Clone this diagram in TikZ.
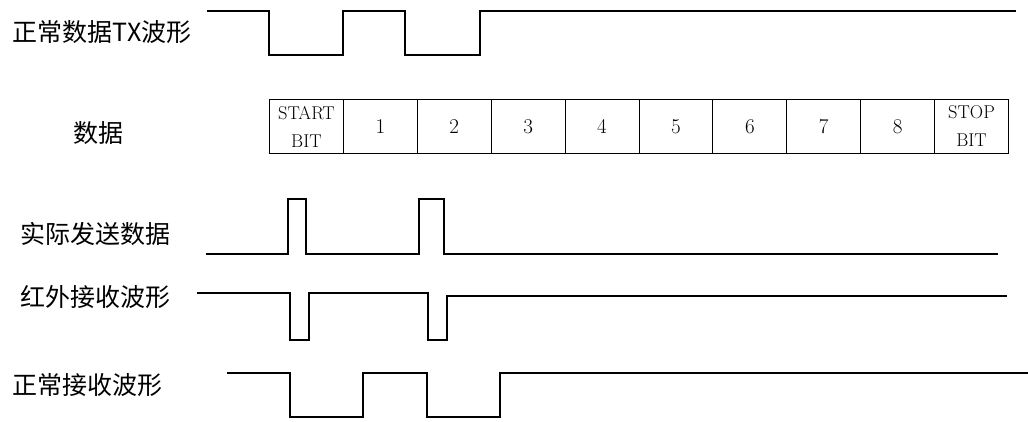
\documentclass[tikz,border=0pt]{standalone}
\usepackage{fontspec}
\newfontfamily\cjk{Noto Sans CJK SC}

\begin{document}
\begin{tikzpicture}[x=1pt,y=-1pt,line width=1.3pt,
  lbl/.style={anchor=west,inner sep=0pt,font=\cjk\fontsize{25}{30}\selectfont},
  cell/.style={draw,line width=1pt,minimum width=73.9pt,minimum height=54pt,inner sep=0pt,
    anchor=north west,align=center,font=\fontsize{21}{28}\selectfont},
  endcell/.style={cell,font=\fontsize{18.5}{28}\selectfont}]
\useasboundingbox (0,0) rectangle (1028,421);
% labels
\node[lbl] (txlabel) at (12,32) {正常数据TX波形};
\node[lbl] (datalabel) at (73,133) {数据};
\node[lbl] (sendlabel) at (20,234) {实际发送数据};
\node[lbl] (irlabel) at (20,297) {红外接收波形};
\node[lbl] (rxlabel) at (12,385) {正常接收波形};
% data frame
\node[endcell] (cell0) at (269,99) {START\\BIT};
\foreach \i in {1,...,8}
  \node[cell] (cell\i) at (269+73.9*\i,99) {\i};
\node[endcell] (cell9) at (269+73.9*9,99) {STOP\\BIT};
% waveforms
\draw (207,11) -- (269,11) -- (269,55) -- (343,55) -- (343,11) -- (405,11) -- (405,55)
  -- (480,55) -- (480,11) -- (1016,11);
\draw (206,254) -- (288,254) -- (288,199) -- (306,199) -- (306,254) -- (419,254)
  -- (419,199) -- (444,199) -- (444,254) -- (998,254);
\draw (197,293) -- (290,293) -- (290,340) -- (309,340) -- (309,293) -- (428,293)
  -- (428,340) -- (447,340) -- (447,296) -- (1007,296);
\draw (227,373) -- (290,373) -- (290,417) -- (363,417) -- (363,373) -- (427,373)
  -- (427,417) -- (500,417) -- (500,373) -- (1028,373);
\end{tikzpicture}
\end{document}
